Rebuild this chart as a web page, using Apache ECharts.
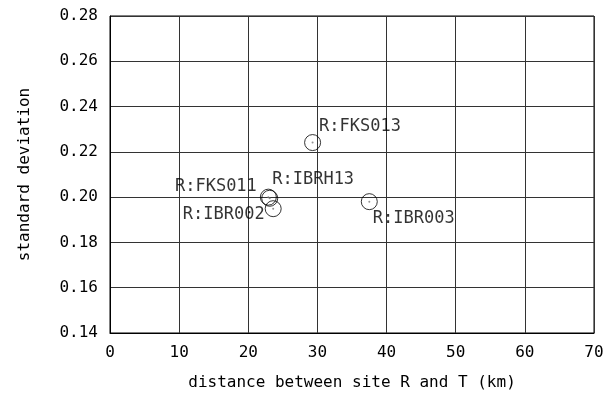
<!DOCTYPE html>
<html>
<head>
<meta charset="utf-8">
<script src="https://cdn.jsdelivr.net/npm/echarts@6/dist/echarts.min.js"></script>
<style>html,body{margin:0;padding:0;background:#fff}#c{width:616px;height:401px}</style>
</head>
<body>
<div id="c"></div>
<script>
var stations = ['R:FKS013', 'R:FKS011', 'R:IBRH13', 'R:IBR002', 'R:IBR003'];
var distances = [29.3, 22.9, 23.1, 23.6, 37.5];
var stdDevs = [0.2241, 0.2000, 0.1995, 0.1949, 0.1980];
var xTicks = [0, 10, 20, 30, 40, 50, 60, 70];
var yTicks = [0.14, 0.16, 0.18, 0.20, 0.22, 0.24, 0.26, 0.28];

// label placement (style only): [dx, dy, align] relative to symbol centre
var labelPlace = {
  'R:FKS013': [7, -15, 'left'],
  'R:FKS011': [-11, -10, 'right'],
  'R:IBRH13': [3, -18, 'left'],
  'R:IBR002': [-8, 6, 'right'],
  'R:IBR003': [4, 17, 'left']
};
var FONT = 'DejaVu Sans Mono';
var pts = stations.map(function (s, i) {
  var p = labelPlace[s];
  return {
    name: s,
    value: [distances[i], stdDevs[i]],
    label: {
      show: true, formatter: s, position: [8 + p[0], 8 + p[1]],
      align: p[2], verticalAlign: 'middle',
      color: '#000', fontFamily: FONT, fontSize: 17
    }
  };
});
var dots = stations.map(function (s, i) { return [distances[i], stdDevs[i]]; });

var chart = echarts.init(document.getElementById('c'), null, {renderer: 'canvas'});
chart.setOption({
  animation: false,
  grid: {left: 110, right: 22, top: 16, bottom: 68, show: true, borderColor: '#000', borderWidth: 1},
  xAxis: {
    type: 'value', min: xTicks[0], max: xTicks[xTicks.length - 1], interval: 10,
    name: 'distance between site R and T (km)', nameLocation: 'middle', nameGap: 42,
    nameTextStyle: {color: '#000', fontFamily: FONT, fontSize: 16},
    axisLine: {show: true, lineStyle: {color: '#000'}},
    axisTick: {show: false},
    axisLabel: {color: '#000', fontFamily: FONT, fontSize: 16, margin: 12},
    splitLine: {show: true, lineStyle: {color: '#333', width: 1}}
  },
  yAxis: {
    type: 'value', min: yTicks[0], max: yTicks[yTicks.length - 1], interval: 0.02,
    name: 'standard deviation', nameLocation: 'middle', nameGap: 77,
    nameTextStyle: {color: '#000', fontFamily: FONT, fontSize: 16},
    axisLine: {show: true, lineStyle: {color: '#000'}},
    axisTick: {show: false},
    axisLabel: {color: '#000', fontFamily: FONT, fontSize: 16, margin: 12,
      formatter: function (v) { return v.toFixed(2); }},
    splitLine: {show: true, lineStyle: {color: '#333', width: 1}}
  },
  series: [
    {
      type: 'scatter', data: pts, symbol: 'circle', symbolSize: 16,
      itemStyle: {color: 'rgba(255,255,255,0)', borderColor: '#000', borderWidth: 1},
      z: 3
    },
    {
      type: 'scatter', data: dots, symbol: 'circle', symbolSize: 2,
      itemStyle: {color: '#777'}, z: 4, silent: true
    }
  ]
});
</script>
</body>
</html>
